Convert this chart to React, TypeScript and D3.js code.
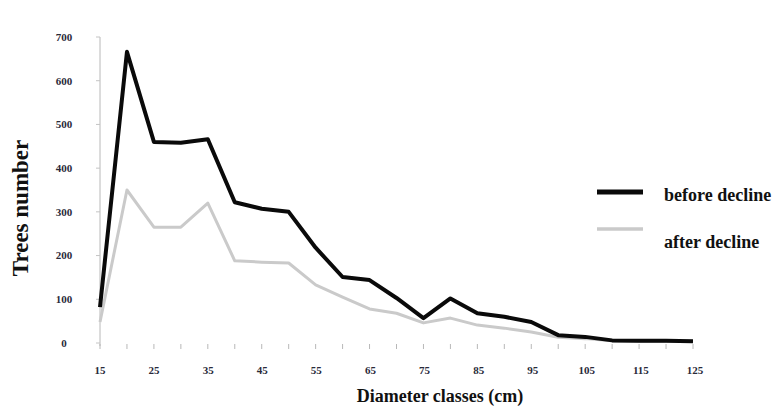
import * as d3 from 'd3';
import React from 'react';

// diameter classes (cm), one point every 5 cm
const classes = [15, 20, 25, 30, 35, 40, 45, 50, 55, 60, 65, 70, 75, 80, 85, 90, 95, 100, 105, 110, 115, 120, 125];
const beforeDecline = [82, 666, 460, 458, 466, 322, 307, 300, 218, 151, 144, 103, 57, 102, 68, 60, 48, 18, 14, 6, 5, 5, 4];
const afterDecline = [48, 350, 265, 265, 320, 188, 185, 183, 133, 105, 78, 68, 46, 57, 41, 34, 25, 13, 10, 5, 4, 4, 4];
const xTickLabels = [15, 25, 35, 45, 55, 65, 75, 85, 95, 105, 115, 125];
const yTicks = [0, 100, 200, 300, 400, 500, 600, 700];

const W = 776;
const H = 406;
const serif = '"Liberation Serif", "Times New Roman", serif';

function App() {
    const x = d3.scaleLinear().domain([15, 125]).range([100, 693]);
    const y = d3.scaleLinear().domain([0, 700]).range([343, 37]);
    // labels sit a bit off the data positions in the original
    const xl = d3.scaleLinear().domain([15, 125]).range([100, 695]);

    const line = d3.line<number>()
        .x((d, i) => x(classes[i]))
        .y(d => y(d));

    return (
        <div style={{ position: 'absolute', left: 0, top: 0 }}>
            <svg width={W} height={H} style={{ display: 'block', background: '#fff' }}>
                {/* y axis */}
                <line x1={100} x2={100} y1={y(700)} y2={346} stroke="#b8b8b8" strokeWidth={1} />
                {yTicks.map(t => (
                    <g key={'y' + t}>
                        <line x1={96} x2={100} y1={y(t)} y2={y(t)} stroke="#c4c4c4" />
                        <text x={64} y={y(t)} dy="0.35em" textAnchor="middle" fontFamily={serif}
                            fontWeight="bold" fontSize={11} fill="#2a2a3a">{t}</text>
                    </g>
                ))}
                {/* x ticks */}
                {classes.map(c => (
                    <line key={'xt' + c} x1={x(c)} x2={x(c)} y1={344} y2={349} stroke="#b8b8b8" />
                ))}
                {xTickLabels.map(t => (
                    <text key={'xl' + t} x={xl(t)} y={374} textAnchor="middle" fontFamily={serif}
                        fontWeight="bold" fontSize={11} fill="#2a2a3a">{t}</text>
                ))}

                <path d={line(afterDecline) || ''} fill="none" stroke="#cacaca" strokeWidth={3} strokeLinejoin="round" />
                <path d={line(beforeDecline) || ''} fill="none" stroke="#0a0a0a" strokeWidth={4} strokeLinejoin="round" />

                {/* legend */}
                <line x1={597} x2={643} y1={192} y2={192} stroke="#0a0a0a" strokeWidth={5} />
                <text x={664} y={201} fontFamily={serif} fontWeight="bold" fontSize={18} fill="#111">before decline</text>
                <line x1={597} x2={643} y1={229} y2={229} stroke="#cacaca" strokeWidth={3.5} />
                <text x={664} y={248} fontFamily={serif} fontWeight="bold" fontSize={18} fill="#111">after decline</text>

                {/* titles */}
                <text transform="translate(28,208) rotate(-90)" textAnchor="middle" fontFamily={serif}
                    fontWeight="bold" fontSize={23} fill="#111">Trees number</text>
                <text x={440} y={402} textAnchor="middle" fontFamily={serif} fontWeight="bold"
                    fontSize={18} fill="#111">Diameter classes (cm)</text>
            </svg>
        </div>
    );
}

export default App;
